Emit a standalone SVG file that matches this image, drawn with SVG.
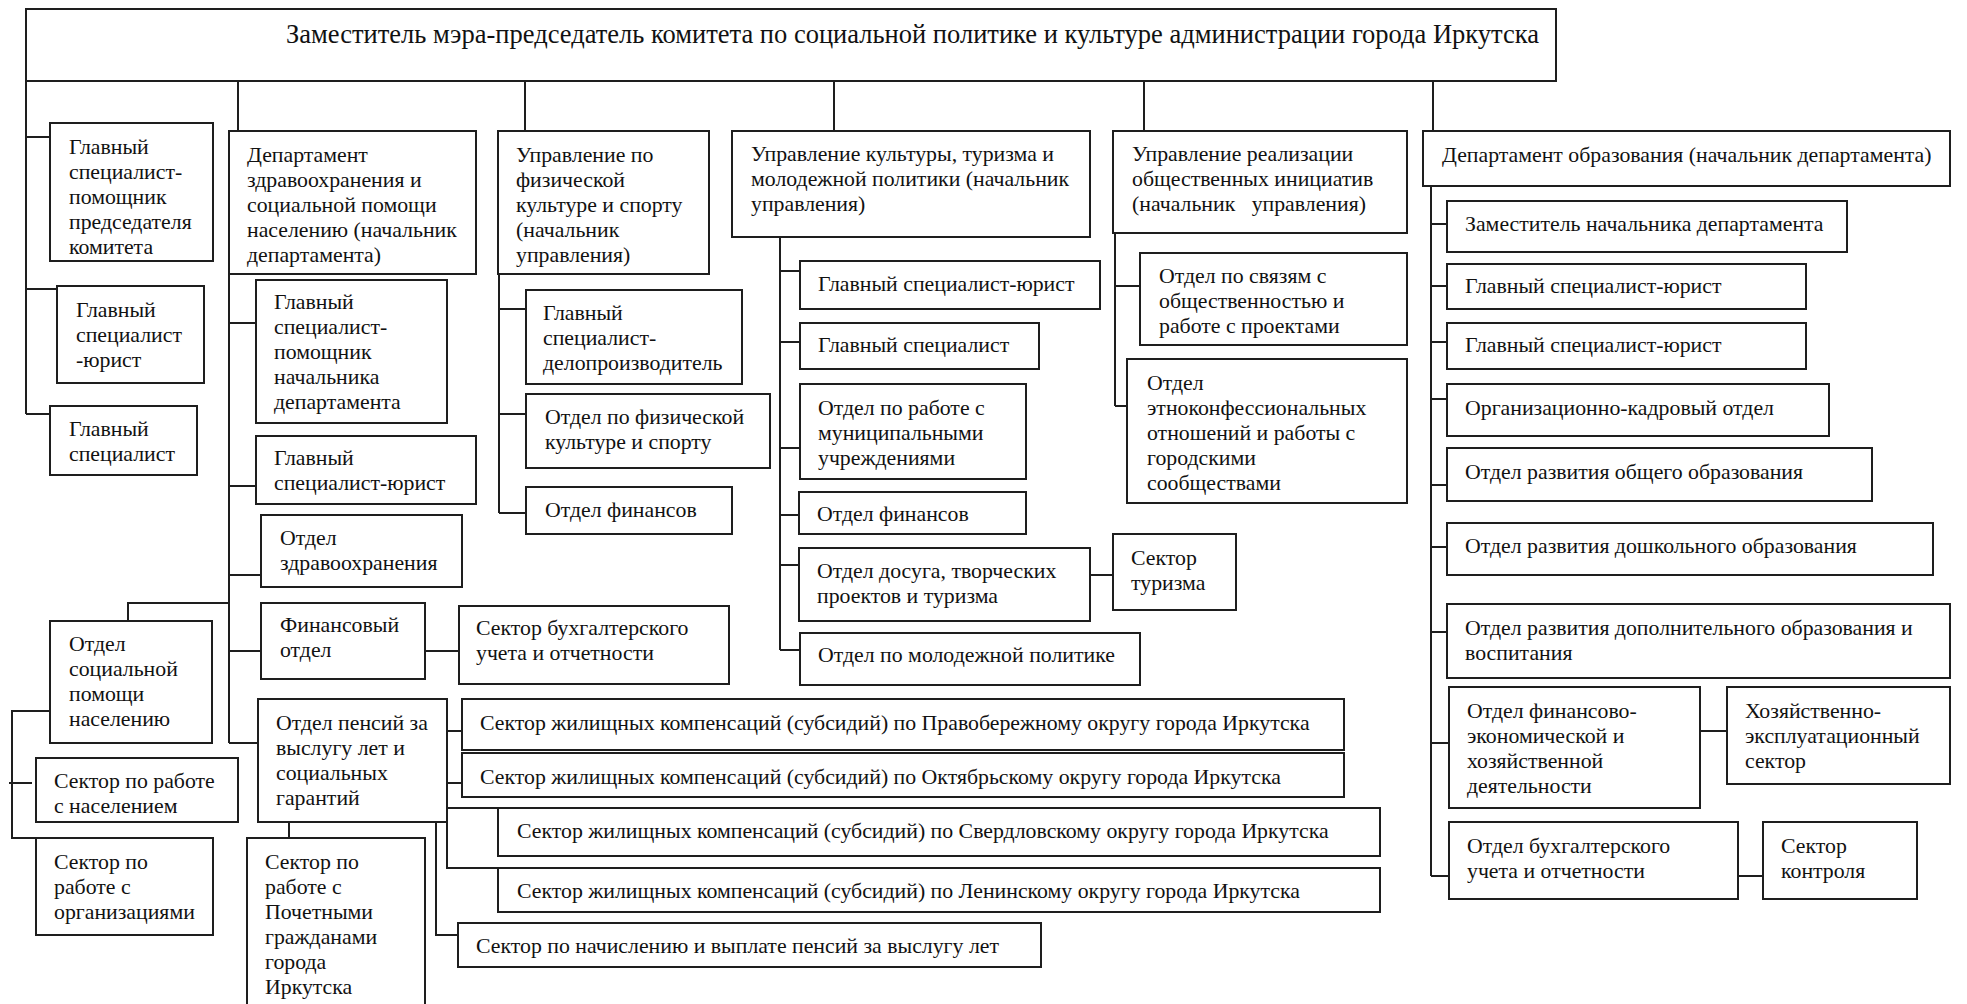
<svg xmlns="http://www.w3.org/2000/svg" width="1967" height="1004" viewBox="0 0 1967 1004">
<style>
rect.b{fill:#fff;stroke:#1e1e1e;stroke-width:2}
text{font-family:"Liberation Serif","Times New Roman",serif;font-size:21.8px;fill:#111}
text.h{font-size:26.5px}
#connectors path{fill:none;stroke:#1e1e1e;stroke-width:2}
</style>
<rect x="0" y="0" width="1967" height="1004" fill="#fff"/>
<g id="connectors">
<path d="M238 81V131M525 81V131M834 81V131M1144 81V131M1433 81V131"/>
<path d="M26 81V414M26 137H50M26 289H57M26 414H50"/>
<path d="M229 274V743M229 323H256M229 486H256M229 575H261M229 651H261M229 743H258M229 603H128V635M425 651H459"/>
<path d="M50 711H12V838H36M9 783H32"/>
<path d="M289 822V838M447 731H462M447 783H462M447 808H498M447 822V868H498M436 822V935H458"/>
<path d="M499 274V513M499 309H526M499 414H526M499 513H526"/>
<path d="M780 237V650M780 271H800M780 342H800M780 448H800M780 515H799M780 565H799M780 650H800M1090 575H1113"/>
<path d="M1115 233V406M1115 286H1140M1115 406H1127"/>
<path d="M1431 186V876M1431 224H1447M1431 286H1447M1431 342H1447M1431 399H1447M1431 485H1447M1431 547H1447M1431 632H1447M1431 743H1449M1431 876H1449M1700 731H1727M1738 876H1763"/>
</g>
<g id="n0"><rect class="b" x="26" y="9" width="1530" height="72"/><text class="h" x="286" y="43">Заместитель мэра-председатель комитета по социальной политике и культуре администрации города Иркутска</text></g>
<g id="n1"><rect class="b" x="50" y="123" width="163" height="138"/><text x="69" y="154"><tspan x="69">Главный</tspan><tspan x="69" dy="25">специалист-</tspan><tspan x="69" dy="25">помощник</tspan><tspan x="69" dy="25">председателя</tspan><tspan x="69" dy="25">комитета</tspan></text></g>
<g id="n2"><rect class="b" x="57" y="286" width="147" height="97"/><text x="76" y="317"><tspan x="76">Главный</tspan><tspan x="76" dy="25">специалист</tspan><tspan x="76" dy="25">-юрист</tspan></text></g>
<g id="n3"><rect class="b" x="50" y="406" width="147" height="69"/><text x="69" y="436"><tspan x="69">Главный</tspan><tspan x="69" dy="25">специалист</tspan></text></g>
<g id="n4"><rect class="b" x="229" y="131" width="247" height="143"/><text x="247" y="162"><tspan x="247">Департамент</tspan><tspan x="247" dy="25">здравоохранения и</tspan><tspan x="247" dy="25">социальной помощи</tspan><tspan x="247" dy="25">населению (начальник</tspan><tspan x="247" dy="25">департамента)</tspan></text></g>
<g id="n5"><rect class="b" x="256" y="280" width="191" height="143"/><text x="274" y="309"><tspan x="274">Главный</tspan><tspan x="274" dy="25">специалист-</tspan><tspan x="274" dy="25">помощник</tspan><tspan x="274" dy="25">начальника</tspan><tspan x="274" dy="25">департамента</tspan></text></g>
<g id="n6"><rect class="b" x="256" y="436" width="220" height="68"/><text x="274" y="465"><tspan x="274">Главный</tspan><tspan x="274" dy="25">специалист-юрист</tspan></text></g>
<g id="n7"><rect class="b" x="261" y="515" width="201" height="72"/><text x="280" y="545"><tspan x="280">Отдел</tspan><tspan x="280" dy="25">здравоохранения</tspan></text></g>
<g id="n8"><rect class="b" x="261" y="603" width="164" height="76"/><text x="280" y="632"><tspan x="280">Финансовый</tspan><tspan x="280" dy="25">отдел</tspan></text></g>
<g id="n9"><rect class="b" x="459" y="606" width="270" height="78"/><text x="476" y="635"><tspan x="476">Сектор бухгалтерского</tspan><tspan x="476" dy="25">учета и отчетности</tspan></text></g>
<g id="n10"><rect class="b" x="50" y="621" width="162" height="122"/><text x="69" y="651"><tspan x="69">Отдел</tspan><tspan x="69" dy="25">социальной</tspan><tspan x="69" dy="25">помощи</tspan><tspan x="69" dy="25">населению</tspan></text></g>
<g id="n11"><rect class="b" x="36" y="758" width="202" height="64"/><text x="54" y="788"><tspan x="54">Сектор по работе</tspan><tspan x="54" dy="25">с населением</tspan></text></g>
<g id="n12"><rect class="b" x="36" y="838" width="177" height="97"/><text x="54" y="869"><tspan x="54">Сектор по</tspan><tspan x="54" dy="25">работе с</tspan><tspan x="54" dy="25">организациями</tspan></text></g>
<g id="n13"><rect class="b" x="258" y="699" width="189" height="123"/><text x="276" y="730"><tspan x="276">Отдел пенсий за</tspan><tspan x="276" dy="25">выслугу лет и</tspan><tspan x="276" dy="25">социальных</tspan><tspan x="276" dy="25">гарантий</tspan></text></g>
<g id="n14"><rect class="b" x="247" y="838" width="178" height="180"/><text x="265" y="869"><tspan x="265">Сектор по</tspan><tspan x="265" dy="25">работе с</tspan><tspan x="265" dy="25">Почетными</tspan><tspan x="265" dy="25">гражданами</tspan><tspan x="265" dy="25">города</tspan><tspan x="265" dy="25">Иркутска</tspan></text></g>
<g id="n15"><rect class="b" x="462" y="699" width="882" height="51"/><text x="480" y="730">Сектор жилищных компенсаций (субсидий) по Правобережному округу города Иркутска</text></g>
<g id="n16"><rect class="b" x="462" y="753" width="882" height="44"/><text x="480" y="784">Сектор жилищных компенсаций (субсидий) по Октябрьскому округу города Иркутска</text></g>
<g id="n17"><rect class="b" x="498" y="808" width="882" height="48"/><text x="517" y="838">Сектор жилищных компенсаций (субсидий) по Свердловскому округу города Иркутска</text></g>
<g id="n18"><rect class="b" x="498" y="868" width="882" height="44"/><text x="517" y="898">Сектор жилищных компенсаций (субсидий) по Ленинскому округу города Иркутска</text></g>
<g id="n19"><rect class="b" x="458" y="923" width="583" height="44"/><text x="476" y="953">Сектор по начислению и выплате пенсий за выслугу лет</text></g>
<g id="n20"><rect class="b" x="498" y="131" width="211" height="143"/><text x="516" y="162"><tspan x="516">Управление по</tspan><tspan x="516" dy="25">физической</tspan><tspan x="516" dy="25">культуре и спорту</tspan><tspan x="516" dy="25">(начальник</tspan><tspan x="516" dy="25">управления)</tspan></text></g>
<g id="n21"><rect class="b" x="526" y="290" width="216" height="94"/><text x="543" y="320"><tspan x="543">Главный</tspan><tspan x="543" dy="25">специалист-</tspan><tspan x="543" dy="25">делопроизводитель</tspan></text></g>
<g id="n22"><rect class="b" x="526" y="394" width="244" height="74"/><text x="545" y="424"><tspan x="545">Отдел по физической</tspan><tspan x="545" dy="25">культуре и спорту</tspan></text></g>
<g id="n23"><rect class="b" x="526" y="487" width="206" height="47"/><text x="545" y="517">Отдел финансов</text></g>
<g id="n24"><rect class="b" x="732" y="131" width="358" height="106"/><text x="751" y="161"><tspan x="751">Управление культуры, туризма и</tspan><tspan x="751" dy="25">молодежной политики (начальник</tspan><tspan x="751" dy="25">управления)</tspan></text></g>
<g id="n25"><rect class="b" x="800" y="261" width="300" height="48"/><text x="818" y="291">Главный специалист-юрист</text></g>
<g id="n26"><rect class="b" x="800" y="323" width="239" height="46"/><text x="818" y="352">Главный специалист</text></g>
<g id="n27"><rect class="b" x="800" y="384" width="226" height="95"/><text x="818" y="415"><tspan x="818">Отдел по работе с</tspan><tspan x="818" dy="25">муниципальными</tspan><tspan x="818" dy="25">учреждениями</tspan></text></g>
<g id="n28"><rect class="b" x="799" y="492" width="227" height="42"/><text x="817" y="521">Отдел финансов</text></g>
<g id="n29"><rect class="b" x="799" y="548" width="291" height="73"/><text x="817" y="578"><tspan x="817">Отдел досуга, творческих</tspan><tspan x="817" dy="25">проектов и туризма</tspan></text></g>
<g id="n30"><rect class="b" x="1113" y="534" width="123" height="76"/><text x="1131" y="565"><tspan x="1131">Сектор</tspan><tspan x="1131" dy="25">туризма</tspan></text></g>
<g id="n31"><rect class="b" x="800" y="633" width="340" height="52"/><text x="818" y="662">Отдел по молодежной политике</text></g>
<g id="n32"><rect class="b" x="1113" y="131" width="294" height="102"/><text x="1132" y="161"><tspan x="1132">Управление реализации</tspan><tspan x="1132" dy="25">общественных инициатив</tspan><tspan x="1132" dy="25" xml:space="preserve">(начальник   управления)</tspan></text></g>
<g id="n33"><rect class="b" x="1140" y="253" width="267" height="92"/><text x="1159" y="283"><tspan x="1159">Отдел по связям с</tspan><tspan x="1159" dy="25">общественностью и</tspan><tspan x="1159" dy="25">работе с проектами</tspan></text></g>
<g id="n34"><rect class="b" x="1127" y="359" width="280" height="144"/><text x="1147" y="390"><tspan x="1147">Отдел</tspan><tspan x="1147" dy="25">этноконфессиональных</tspan><tspan x="1147" dy="25">отношений и работы с</tspan><tspan x="1147" dy="25">городскими</tspan><tspan x="1147" dy="25">сообществами</tspan></text></g>
<g id="n35"><rect class="b" x="1423" y="131" width="527" height="55"/><text x="1442" y="162">Департамент образования (начальник департамента)</text></g>
<g id="n36"><rect class="b" x="1447" y="201" width="400" height="51"/><text x="1465" y="231">Заместитель начальника департамента</text></g>
<g id="n37"><rect class="b" x="1447" y="264" width="359" height="45"/><text x="1465" y="293">Главный специалист-юрист</text></g>
<g id="n38"><rect class="b" x="1447" y="323" width="359" height="46"/><text x="1465" y="352">Главный специалист-юрист</text></g>
<g id="n39"><rect class="b" x="1447" y="384" width="382" height="52"/><text x="1465" y="415">Организационно-кадровый отдел</text></g>
<g id="n40"><rect class="b" x="1447" y="448" width="425" height="53"/><text x="1465" y="479">Отдел развития общего образования</text></g>
<g id="n41"><rect class="b" x="1447" y="523" width="486" height="52"/><text x="1465" y="553">Отдел развития дошкольного образования</text></g>
<g id="n42"><rect class="b" x="1447" y="604" width="503" height="74"/><text x="1465" y="635"><tspan x="1465">Отдел развития дополнительного образования и</tspan><tspan x="1465" dy="25">воспитания</tspan></text></g>
<g id="n43"><rect class="b" x="1449" y="687" width="251" height="121"/><text x="1467" y="718"><tspan x="1467">Отдел финансово-</tspan><tspan x="1467" dy="25">экономической и</tspan><tspan x="1467" dy="25">хозяйственной</tspan><tspan x="1467" dy="25">деятельности</tspan></text></g>
<g id="n44"><rect class="b" x="1727" y="687" width="223" height="97"/><text x="1745" y="718"><tspan x="1745">Хозяйственно-</tspan><tspan x="1745" dy="25">эксплуатационный</tspan><tspan x="1745" dy="25">сектор</tspan></text></g>
<g id="n45"><rect class="b" x="1449" y="822" width="289" height="77"/><text x="1467" y="853"><tspan x="1467">Отдел бухгалтерского</tspan><tspan x="1467" dy="25">учета и отчетности</tspan></text></g>
<g id="n46"><rect class="b" x="1763" y="822" width="154" height="77"/><text x="1781" y="853"><tspan x="1781">Сектор</tspan><tspan x="1781" dy="25">контроля</tspan></text></g>
</svg>
